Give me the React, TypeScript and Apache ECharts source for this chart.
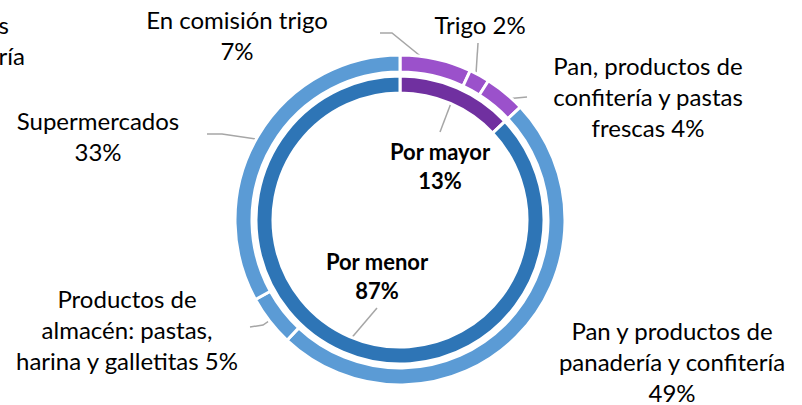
import React, { useEffect, useRef } from "react";
import * as echarts from "echarts";

// ---- data ----
const innerNames = ["Por mayor", "Por menor"];
const innerValues = [13, 87];
const outerNames = [
  "En comisión trigo",
  "Trigo",
  "Pan, productos de\nconfitería y pastas\nfrescas",
  "Pan y productos de\npanadería y confitería",
  "Productos de\nalmacén: pastas,\nharina y galletitas",
  "Supermercados",
];
const outerValues = [7, 2, 4, 49, 5, 33];
const outerPctOnNewLine = [true, false, false, true, false, true];

// ---- styling / layout ----
const CX = 400;
const CY = 220;
const OUTER_R: [number, number] = [148, 165];
const INNER_R: [number, number] = [127, 144];
const innerColors = ["#7030A0", "#2E75B6"];
const outerColors = ["#9B51CB", "#9B51CB", "#9B51CB", "#5B9BD5", "#5B9BD5", "#5B9BD5"];
const FONT = "Lato";

type LabelPos = { x: number; y: number; line: number[][] | null };
const outerLabelPos: LabelPos[] = [
  { x: 237, y: 35, line: [[392, 33], [380, 33]] },
  { x: 480, y: 24, line: [[478, 43]] },
  { x: 648, y: 96, line: [[527, 97]] },
  { x: 672, y: 361, line: null },
  { x: 127, y: 329, line: [[263, 325], [250, 327]] },
  { x: 98, y: 136, line: [[222, 134], [207, 134]] },
];
const innerLabelPos: LabelPos[] = [
  { x: 440, y: 166, line: [[440, 132]] },
  { x: 377, y: 276, line: [[377, 308]] },
];

function midAnchor(values: number[], idx: number, r: number): number[] {
  const total = values.reduce((a, b) => a + b, 0);
  let before = 0;
  for (let i = 0; i < idx; i++) before += values[i];
  const frac = (before + values[idx] / 2) / total;
  const a = frac * Math.PI * 2;
  return [CX + r * Math.sin(a), CY - r * Math.cos(a)];
}

export default function App() {
  const ref = useRef<HTMLDivElement>(null);
  useEffect(() => {
    document.body.style.margin = "0";
    if (!ref.current) return;
    const chart = echarts.init(ref.current, undefined, { renderer: "svg" });
    const outerMid = (OUTER_R[0] + OUTER_R[1]) / 2;
    const innerMid = (INNER_R[0] + INNER_R[1]) / 2;
    const option: any = {
      animation: false,
      backgroundColor: "#ffffff",
      graphic: [
        {
          type: "text",
          style: { x: 9, y: 24, text: "s", textAlign: "right", textVerticalAlign: "middle", font: `24px ${FONT}`, fill: "#000" },
        },
        {
          type: "text",
          style: { x: 25, y: 55, text: "ría", textAlign: "right", textVerticalAlign: "middle", font: `24px ${FONT}`, fill: "#000" },
        },
      ],
      series: [
        {
          type: "pie",
          name: "inner",
          center: [CX, CY],
          radius: INNER_R,
          startAngle: 90,
          clockwise: true,
          avoidLabelOverlap: false,
          silent: true,
          itemStyle: { borderColor: "#fff", borderWidth: 3 },
          label: {
            show: true,
            position: "outside",
            width: 200,
            overflow: "none",
            color: "#000",
            fontFamily: FONT,
            fontWeight: "bold",
            fontSize: 22,
            lineHeight: 29,
            formatter: (p: any) => `${p.name}\n${p.value}%`,
          },
          labelLine: { show: true, lineStyle: { color: "#A6A6A6", width: 1.5 } },
          labelLayout: (params: any) => {
            const pos = innerLabelPos[params.dataIndex];
            const anchor = midAnchor(innerValues, params.dataIndex, innerMid);
            return {
              x: pos.x,
              y: pos.y,
              align: "center",
              verticalAlign: "middle",
              labelLinePoints: pos.line ? [anchor, ...pos.line] : undefined,
            };
          },
          data: innerValues.map((v, i) => ({
            value: v,
            name: innerNames[i],
            itemStyle: { color: innerColors[i] },
          })),
        },
        {
          type: "pie",
          name: "outer",
          center: [CX, CY],
          radius: OUTER_R,
          startAngle: 90,
          clockwise: true,
          avoidLabelOverlap: false,
          silent: true,
          itemStyle: { borderColor: "#fff", borderWidth: 3 },
          label: {
            show: true,
            position: "outside",
            width: 300,
            overflow: "none",
            color: "#000",
            fontFamily: FONT,
            fontSize: 24,
            lineHeight: 31,
            formatter: (p: any) =>
              `${p.name}${outerPctOnNewLine[p.dataIndex] ? "\n" : " "}${p.value}%`,
          },
          labelLine: { show: true, lineStyle: { color: "#A6A6A6", width: 1.5 } },
          labelLayout: (params: any) => {
            const pos = outerLabelPos[params.dataIndex];
            const anchor = midAnchor(outerValues, params.dataIndex, outerMid);
            return {
              x: pos.x,
              y: pos.y,
              align: "center",
              verticalAlign: "middle",
              labelLinePoints: pos.line ? [anchor, ...pos.line] : undefined,
            };
          },
          data: outerValues.map((v, i) => ({
            value: v,
            name: outerNames[i],
            itemStyle: { color: outerColors[i] },
            labelLine: { show: outerLabelPos[i].line != null },
          })),
        },
      ],
    };
    chart.setOption(option);
    return () => chart.dispose();
  }, []);
  return <div ref={ref} style={{ width: 802, height: 405 }} />;
}
